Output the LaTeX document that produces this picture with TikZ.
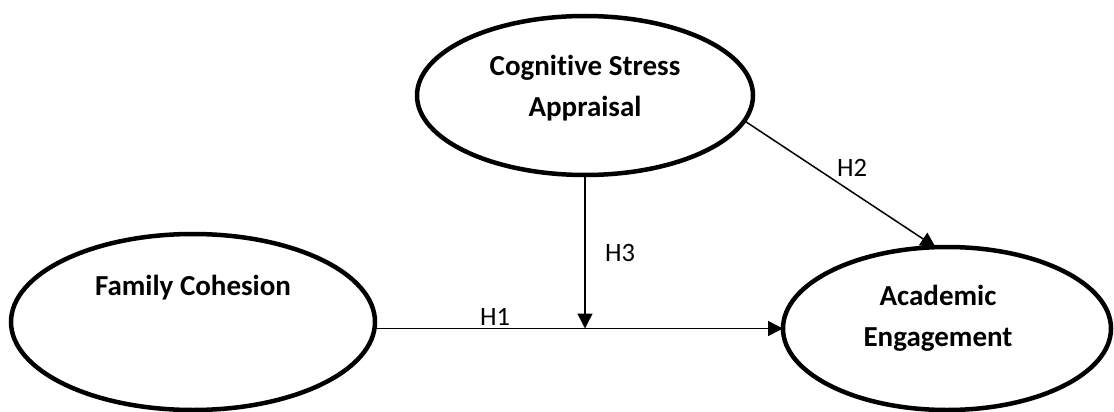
\documentclass[tikz,border=0pt]{standalone}
\usepackage{fontspec}
\setmainfont{Carlito}[Ligatures=NoCommon]
\usetikzlibrary{arrows.meta,shapes.geometric}
\begin{document}
\begin{tikzpicture}[x=1pt,y=-1pt,
  construct/.style={draw=black, line width=4.5pt, ellipse, inner sep=0pt, outer sep=0pt},
  ctext/.style={font=\fontsize{29}{41}\selectfont\bfseries, align=center, inner sep=0pt},
  hlabel/.style={font=\fontsize{26.5}{30}\selectfont, inner sep=0pt},
  path/.style={draw=black, line width=1.5pt, -{Triangle[length=15pt,width=15pt]}}
]
\useasboundingbox (0,0) rectangle (1114,412);
\node[construct, minimum width=336pt, minimum height=159pt] (csa) at (585,95.5) {};
\node[construct, minimum width=364pt, minimum height=176pt] (fc) at (193,322) {};
\node[construct, minimum width=328pt, minimum height=163pt] (ae) at (947,328.5) {};
\node[ctext] (csat) at (585,88) {Cognitive Stress\\Appraisal};
\node[ctext] (fct) at (193,288) {Family Cohesion};
\node[ctext] (aet) at (938,318) {Academic\\Engagement};
\coordinate (h1s) at (fc.east |- ae.west);
\coordinate (jn) at (csa.south |- ae.west);
\draw[path] (h1s) -- (ae.west);
\draw[path] (csa.south) -- (jn);
\draw[path] (csa.-9) -- (ae.98);
\node[hlabel] (h1) at (495,317) {H1};
\node[hlabel] (h3) at (620,253) {H3};
\node[hlabel] (h2) at (852,168) {H2};
\end{tikzpicture}
\end{document}
